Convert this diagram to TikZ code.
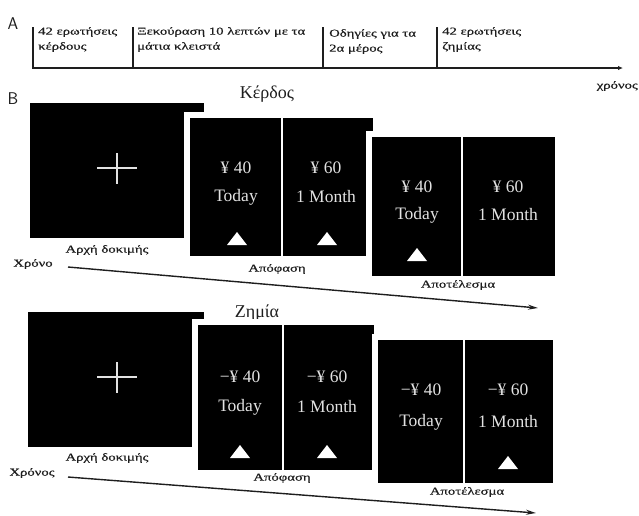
\documentclass[tikz,border=0pt]{standalone}
\usepackage{fontspec}
\setmainfont{Liberation Serif}
\newfontfamily\widefont[FakeStretch=1.4,FakeBold=0.6]{Liberation Serif}
\usetikzlibrary{arrows.meta}
\definecolor{ink}{HTML}{1E1E1E}
\definecolor{scr}{HTML}{E2E2E2}
\begin{document}
\begin{tikzpicture}[x=1pt,y=-1pt,
  small/.style={font=\widefont\fontsize{10.5}{12}\selectfont, text=ink, inner sep=0pt},
  smallw/.style={small, anchor=west},
  title/.style={font=\fontsize{18}{20}\selectfont, text=ink, inner sep=0pt},
  letter/.style={font=\sffamily\fontsize{17}{18}\selectfont, text=ink, inner sep=0pt},
  ptxt/.style={font=\fontsize{17.5}{20}\selectfont, text=scr, inner sep=0pt},
  timeline/.style={line width=1.4pt, ink},
  tick/.style={line width=1.2pt, ink},
  flow/.style={line width=1.4pt, ink, -{Stealth[length=10pt,width=5pt]}},
  divider/.style={white, line width=2pt},
  crossline/.style={scr, line width=1.6pt}
]
\useasboundingbox (0,0) rectangle (639,515);

% ---------------- Part A ----------------
\node[letter] (A) at (13,24) {A};
\coordinate (t0) at (32,68);
\coordinate (t1) at (623,68);
\draw[timeline,-{Latex[length=5pt,width=4.5pt]}] (t0) -- (t1);
\foreach \x/\n in {33/a,133/b,323/c,437/d}{
  \coordinate (tk\n top) at (\x,27);
  \coordinate (tk\n bot) at (\x,68);
  \draw[tick] (tk\n top) -- (tk\n bot);
}
\node[smallw] (a1) at (38,32) {42 ερωτήσεις};
\node[smallw] (a2) at (38,47) {κέρδους};
\node[smallw] (b1) at (137,32) {Ξεκούραση 10 λεπτών με τα};
\node[smallw] (b2) at (137,47) {μάτια κλειστά};
\node[smallw] (c1) at (329,34) {Οδηγίες για τα};
\node[smallw] (c2) at (329,49) {2α μέρος};
\node[smallw] (d1) at (442,32) {42 ερωτήσεις};
\node[smallw] (d2) at (442,47) {ζημίας};
\node[small, anchor=east] (xr) at (638,86) {χρόνος};

% ---------------- Part B ----------------
\node[letter] (B) at (13,99) {B};
\node[title] (gain) at (267,94) {Κέρδος};

% top row screens
\fill[black] (30,103) rectangle (204,238);
\fill[white] (184,112) rectangle (379,262);
\fill[black] (190,118) rectangle (373,256);
\fill[white] (366,131) rectangle (561,282);
\fill[black] (372,137) rectangle (555,276);
\draw[divider] (282,118) -- (282,256);
\draw[divider] (462,137) -- (462,276);
\draw[crossline] (97,168) -- (137,168);
\draw[crossline] (117,153) -- (117,184);

\node[ptxt] (g1a) at (236,168) {¥ 40};
\node[ptxt] (g1b) at (236,197) {Today};
\node[ptxt] (g2a) at (326,168) {¥ 60};
\node[ptxt] (g2b) at (326,197) {1 Month};
\fill[white] (227,245) -- (247,245) -- (237,232) -- cycle;
\fill[white] (317,245) -- (337,245) -- (327,232) -- cycle;
\node[ptxt] (g3a) at (417,187) {¥ 40};
\node[ptxt] (g3b) at (417,215) {Today};
\node[ptxt] (g4a) at (508,187) {¥ 60};
\node[ptxt] (g4b) at (508,215) {1 Month};
\fill[white] (407,261) -- (427,261) -- (417,248) -- cycle;

\node[small] (gs) at (107,250) {Αρχή δοκιμής};
\node[small] (gt) at (33,264) {Χρόνο};
\node[small] (gd) at (277,269) {Απόφαση};
\node[small] (gr) at (458,285) {Αποτέλεσμα};
\coordinate (ga0) at (68,267);
\coordinate (ga1) at (538,308);
\draw[flow] (ga0) -- (ga1);

% bottom row screens
\node[title] (loss) at (257,313) {Ζημία};
\fill[black] (28,312) rectangle (204,447);
\fill[white] (192,319) rectangle (380,476);
\fill[black] (198,325) rectangle (374,470);
\fill[white] (372,334) rectangle (559,489);
\fill[black] (378,340) rectangle (553,483);
\draw[divider] (283,325) -- (283,470);
\draw[divider] (464,340) -- (464,483);
\draw[crossline] (97,377) -- (137,377);
\draw[crossline] (117,362) -- (117,393);

\node[ptxt] (l1a) at (240,377) {−¥ 40};
\node[ptxt] (l1b) at (240,407) {Today};
\node[ptxt] (l2a) at (327,377) {−¥ 60};
\node[ptxt] (l2b) at (327,407) {1 Month};
\fill[white] (230,458) -- (250,458) -- (240,445) -- cycle;
\fill[white] (317,458) -- (337,458) -- (327,445) -- cycle;
\node[ptxt] (l3a) at (421,390) {−¥ 40};
\node[ptxt] (l3b) at (421,422) {Today};
\node[ptxt] (l4a) at (508,390) {−¥ 60};
\node[ptxt] (l4b) at (508,422) {1 Month};
\fill[white] (498,469) -- (518,469) -- (508,456) -- cycle;

\node[small] (ls) at (107,458) {Αρχή δοκιμής};
\node[small] (lt) at (32,473) {Χρόνος};
\node[small] (ld) at (282,478) {Απόφαση};
\node[small] (lr) at (467,492) {Αποτέλεσμα};
\coordinate (la0) at (68,477);
\coordinate (la1) at (536,513);
\draw[flow] (la0) -- (la1);
\end{tikzpicture}
\end{document}
